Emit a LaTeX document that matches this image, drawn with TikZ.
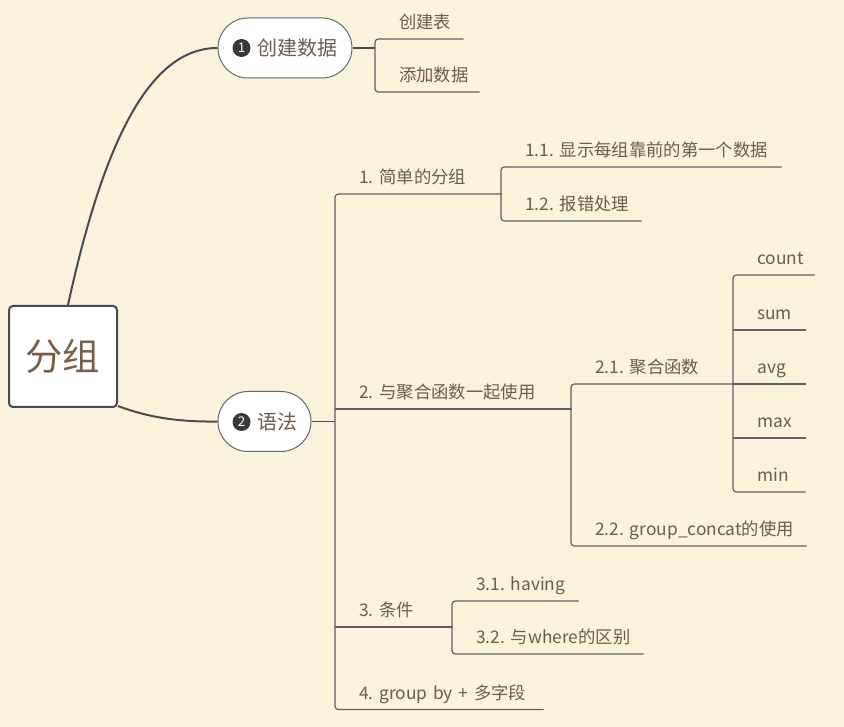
\documentclass[tikz,border=0pt]{standalone}
\usepackage{fontspec}
\setmainfont[WordSpace=0.6]{Noto Sans CJK SC}
\frenchspacing
\definecolor{bgc}{HTML}{FAF3DC}
\definecolor{txc}{HTML}{6D5B4C}
\definecolor{rootc}{HTML}{7A5F48}
\definecolor{lnc}{HTML}{454C53}
\definecolor{ulc}{HTML}{5C6267}
\definecolor{numc}{HTML}{3A3A3A}
\begin{document}
\begin{tikzpicture}[x=0.75pt,y=-0.75pt,
  lbl/.style={anchor=south west, inner sep=0pt, text width=#1, text height=10pt, text depth=7.5pt,
    align=left, text=txc, font=\fontsize{13}{15}\selectfont\frenchspacing, execute at begin node={\hspace*{18pt}}},
  main/.style={draw=lnc!85, line width=0.75pt, fill=white, rounded corners=22.5pt, minimum height=45pt, inner sep=0pt},
  numb/.style={circle, fill=numc, text=white, minimum size=13.5pt, inner sep=0pt, font=\fontsize{10}{10}\selectfont},
  mtxt/.style={anchor=west, inner sep=0pt, text=txc, font=\fontsize{15}{17}\selectfont},
  curv/.style={draw=lnc, line width=1.5pt},
  stub/.style={draw=lnc, line width=1.2pt},
  br/.style={draw=ulc, line width=0.9pt, rounded corners=2.5pt},
]
\fill[bgc] (0,0) rectangle (844,727);
\useasboundingbox (0,0) rectangle (844,727);

% root
\node[draw=lnc, line width=1.5pt, fill=white, rounded corners=3pt, minimum width=81pt, minimum height=75.75pt,
  inner sep=0pt, text=rootc, font=\fontsize{28}{30}\selectfont] (root) at (63,356.5) {分组};

% main topics
\node[main, minimum width=100.5pt] (n1) at (285,48) {};
\node[numb] (c1) at (241.5,48) {1};
\node[mtxt] (t1) at (257,48) {创建数据};

\node[main, minimum width=69.75pt] (n2) at (264.5,421.5) {};
\node[numb] (c2) at (241.5,422) {2};
\node[mtxt] (t2) at (257,422) {语法};

\draw[curv] ([xshift=3.75pt]root.north) .. controls (104,140) and (150,48) .. (n1.west);
\draw[curv] ([yshift=1.5pt]root.south east) .. controls (150,418) and (180,422) .. (n2.west);

% branch 1
\node[lbl=66pt] (a1) at (375,39) {创建表};
\node[lbl=78pt] (a2) at (375,92) {添加数据};
\draw[stub] (n1.east) -- (n1.east -| a1.south west);
\draw[br] (a1.south east) -- (a1.south west) -- (a2.south west) -- (a2.south east);

% branch 2
\node[lbl=124.5pt] (l1) at (335,194) {1. 简单的分组};
\node[lbl=177pt] (l2) at (335,409) {2. 与聚合函数一起使用};
\node[lbl=87.75pt] (l3) at (335,627) {3. 条件};
\node[lbl=156pt] (l4) at (335,709.5) {4. group by + 多字段};
\draw[stub] (n2.east) -- (n2.east -| l1.south west);
\draw[br] (l1.south east) -- (l1.south west) -- (l4.south west) -- (l4.south east);
\draw[br] (l2.south west) -- (l2.south east);
\draw[br] (l3.south west) -- (l3.south east);

\node[lbl=210pt] (l11) at (501,167) {1.1. 显示每组靠前的第一个数据};
\node[lbl=105pt] (l12) at (501,221) {1.2. 报错处理};
\draw[br] (l11.south east) -- (l11.south west) -- (l12.south west) -- (l12.south east);

\node[lbl=121.5pt] (l21) at (571,384) {2.1. 聚合函数};
\node[lbl=176.25pt] (l22) at (571,546) {2.2. group\_concat的使用};
\draw[br] (l21.south east) -- (l21.south west) -- (l22.south west) -- (l22.south east);

\node[lbl=60.75pt] (f1) at (733,275) {count};
\node[lbl=54pt] (f2) at (733,330) {sum};
\node[lbl=54pt] (f3) at (733,384) {avg};
\node[lbl=54pt] (f4) at (733,438) {max};
\node[lbl=54pt] (f5) at (733,492) {min};
\draw[br] (f1.south east) -- (f1.south west) -- (f5.south west) -- (f5.south east);
\draw[br] (f2.south west) -- (f2.south east);
\draw[br] (f3.south west) -- (f3.south east);
\draw[br] (f4.south west) -- (f4.south east);

\node[lbl=94.5pt] (l31) at (452,601) {3.1. having};
\node[lbl=143.25pt] (l32) at (452,654) {3.2. 与where的区别};
\draw[br] (l31.south east) -- (l31.south west) -- (l32.south west) -- (l32.south east);
\end{tikzpicture}
\end{document}
